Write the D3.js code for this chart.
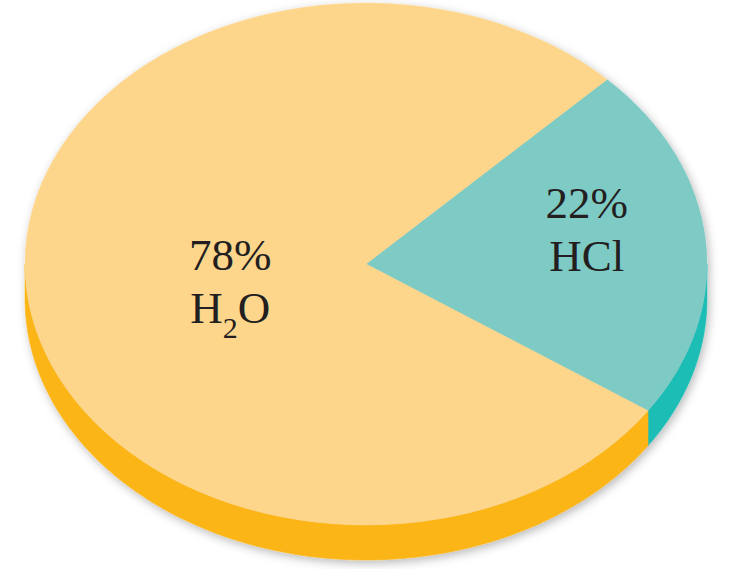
<!DOCTYPE html>
<html>
<head>
<meta charset="utf-8">
<script src="https://cdn.jsdelivr.net/npm/d3@7"></script>
<style>
  body { margin: 0; background: #fff; }
  svg { display: block; }
</style>
</head>
<body>
<div id="chart"></div>
<script>
// data
var names = ["HCl", "H2O"];
var values = [22, 78];
var percentLabels = ["22%", "78%"];
var topColors = ["#7ecbc6", "#fdd68c"];
var sideColors = ["#1fbdb4", "#fcb516"];

var width = 733, height = 569;
var cx = 366, cy = 264, rx = 341, ry = 261, depth = 35;
var startDeg = 45;

var svg = d3.select("#chart").append("svg")
    .attr("width", width)
    .attr("height", height);

// soft shadow under the pie
var defs = svg.append("defs");
var f = defs.append("filter").attr("id", "shadow")
    .attr("x", "-10%").attr("y", "-10%").attr("width", "120%").attr("height", "120%");
f.append("feDropShadow")
    .attr("dx", 2).attr("dy", 3)
    .attr("stdDeviation", 5)
    .attr("flood-color", "#000")
    .attr("flood-opacity", 0.28);

var pie = d3.pie().sort(null)
    .startAngle(startDeg * Math.PI / 180)
    .endAngle(startDeg * Math.PI / 180 + 2 * Math.PI);
var slices = pie(values);

var arc = d3.arc().innerRadius(0).outerRadius(rx);

function pt(a, dy) {
    return [Math.sin(a) * rx, -Math.cos(a) * ry + dy];
}

// side walls, only the front half is visible
function sidePath(d) {
    var parts = [];
    [0, 2 * Math.PI].forEach(function(off){
        var a0 = Math.max(d.startAngle, Math.PI / 2 + off);
        var a1 = Math.min(d.endAngle, 3 * Math.PI / 2 + off);
        if (a1 > a0) parts.push([a0, a1]);
    });
    return parts.map(function(p){
        var n = 80, top = [], bot = [];
        for (var i = 0; i <= n; i++) {
            var a = p[0] + (p[1] - p[0]) * i / n;
            top.push(pt(a, 0));
            bot.push(pt(a, depth));
        }
        var ring = top.concat(bot.reverse());
        return "M" + ring.map(function(q){ return q[0].toFixed(2) + "," + q[1].toFixed(2); }).join("L") + "Z";
    }).join("");
}

var whole = svg.append("g")
    .attr("transform", "translate(" + cx + "," + cy + ")")
    .attr("filter", "url(#shadow)");

whole.append("g").attr("class", "sides")
    .selectAll("path")
    .data(slices)
    .enter()
    .append("path")
    .attr("d", sidePath)
    .attr("fill", (d, i) => sideColors[i])
    .attr("stroke", (d, i) => sideColors[i])
    .attr("stroke-width", 0.5);

whole.append("g").attr("class", "tops")
    .attr("transform", "scale(1," + (ry / rx) + ")")
    .selectAll("path")
    .data(slices)
    .enter()
    .append("path")
    .attr("d", arc)
    .attr("fill", (d, i) => topColors[i])
    .attr("stroke", (d, i) => topColors[i])
    .attr("stroke-width", 0.5);

// labels
var labelRadius = [0.65, 0.40];
var labelShift = [-18, 8];
var labels = svg.append("g")
    .attr("transform", "translate(" + cx + "," + cy + ")")
    .selectAll("g")
    .data(slices)
    .enter()
    .append("g")
    .attr("transform", function(d, i){
        var a = (d.startAngle + d.endAngle) / 2;
        var r = labelRadius[i] * rx;
        var x = Math.sin(a) * r;
        var y = -Math.cos(a) * r * ry / rx + labelShift[i];
        return "translate(" + x + "," + y + ")";
    })
    .style("font-family", "'Liberation Serif', 'DejaVu Serif', serif")
    .style("font-size", "45px")
    .attr("fill", "#231f20")
    .attr("text-anchor", "middle");

labels.append("text")
    .attr("y", -12)
    .text((d, i) => percentLabels[i]);

labels.append("text")
    .attr("y", 41)
    .each(function(d, i){
        var t = d3.select(this);
        var m = names[i].match(/^([A-Za-z]+)(\d)([A-Za-z]+)$/);
        if (m) {
            t.append("tspan").text(m[1]);
            t.append("tspan").attr("dy", 15).style("font-size", "30px").text(m[2]);
            t.append("tspan").attr("dy", -15).text(m[3]);
        } else {
            t.text(names[i]);
        }
    });
</script>
</body>
</html>
